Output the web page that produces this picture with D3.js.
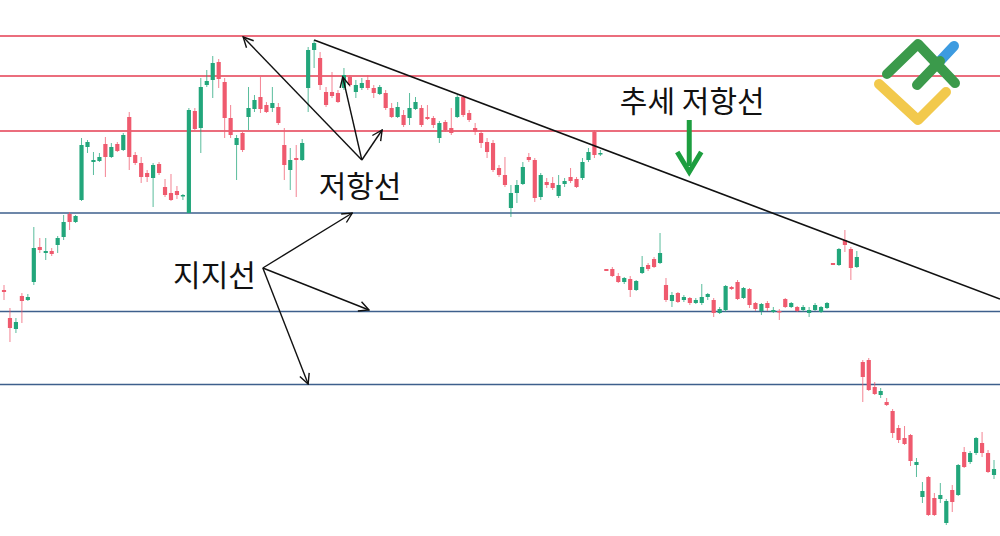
<!DOCTYPE html>
<html><head><meta charset="utf-8">
<script src="https://cdn.jsdelivr.net/npm/d3@7/dist/d3.min.js"></script>
<style>html,body{margin:0;padding:0;background:#fff;overflow:hidden}</style>
</head><body>
<svg id="c" width="1000" height="536"></svg>
<script>
// Candle data (index = session number)
const opens  = [246,218,207,240,236,254,289,283,285,291,299,322,314,336,389,374,375,392,379,392,386,419,381,373,363,358,372,349,343,345,340,323,425,408,451,456,474,454,418,391,403,419,427,439,431,428,429,391,366,378,376,448,486,478,444,444,443,448,459,444,448,456,448,442,443,428,419,421,418,427,428,419,418,398,414,408,419,439,423,408,403,394,393,368,361,328,343,352,379,376,339,354,353,340,352,359,357,358,376,404,382,267,267,260,254,257,246,263,271,277,273,251,235,243,236,238,233,233,239,236,223,226,249,254,238,247,233,225,233,224,225,237,229,229,226,223,226,224,228,273,271,296,287,269,174,176,149,141,134,125,108,98,101,71,39,59,38,37,13,46,41,84,74,83,93,83,61];
const highs  = [251,228,218,243,242,309,298,298,288,300,321,324,321,398,396,384,383,399,393,394,403,424,384,379,366,373,374,357,362,350,342,428,428,458,466,480,477,458,431,401,404,449,441,459,434,449,433,408,388,391,397,489,496,484,449,464,446,468,461,456,458,461,451,451,446,433,434,426,443,439,431,431,420,415,416,428,441,441,426,413,406,398,396,371,379,351,356,374,383,378,363,358,359,361,358,368,359,378,388,406,386,267,269,263,259,260,256,280,273,279,303,258,244,244,241,239,238,252,243,238,229,251,250,256,249,248,234,233,235,229,227,238,234,230,231,229,233,230,234,273,288,306,289,285,176,178,154,148,138,127,111,110,102,78,54,60,43,53,37,51,72,89,85,99,104,86,76];
const lows   = [236,194,203,213,235,251,283,276,280,283,296,306,313,335,383,361,374,359,378,384,385,366,371,353,354,329,361,339,335,337,336,323,406,383,449,438,448,398,398,356,384,406,424,423,423,424,411,356,346,339,375,424,468,446,429,438,433,446,449,438,446,446,438,441,426,418,418,409,411,426,409,416,408,393,404,401,418,419,414,401,388,378,364,359,349,319,333,351,374,334,336,348,346,338,349,353,348,356,374,378,380,265,259,253,252,239,245,262,265,268,272,234,229,233,234,231,232,231,236,219,222,224,246,236,237,228,225,221,225,223,216,228,228,224,224,219,225,223,227,271,270,284,256,268,134,145,141,138,130,98,93,91,70,59,33,20,20,33,11,24,40,68,72,81,79,63,57];
const closes = [244,208,214,235,239,288,286,285,282,298,314,314,320,391,394,376,379,379,389,385,401,379,373,359,359,371,363,341,336,341,341,426,407,449,455,473,457,418,401,398,386,428,436,427,424,433,413,371,376,376,393,486,493,451,431,440,434,461,451,451,453,448,443,449,428,419,429,411,428,434,411,417,411,413,406,403,439,421,416,404,393,384,366,361,351,343,351,369,376,338,361,351,348,351,355,355,349,374,384,381,383,265,260,254,258,246,255,269,267,269,283,236,241,234,239,233,236,239,242,223,227,250,247,237,248,231,227,232,228,226,224,229,233,225,229,226,231,229,233,271,287,291,268,279,159,146,142,145,131,103,96,92,75,74,45,21,21,41,35,34,71,69,83,98,83,64,67];

// Horizontal levels
const resistanceLevels = [500, 460, 405];
const supportLevels    = [323, 224.5, 151.5];
// Trend resistance line: [session, price]
const trendLine = [[52, 496], [167, 237]];

// Annotations: [session, price]
const resistLabel = {text: "저항선", at: [59.7, 339], from: [60.0, 376], to: [[40.1, 499], [56.8, 459], [63.4, 406]]};
const supportLabel = {text: "지지선", at: [35.3, 250], from: [43.4, 268], to: [[58.4, 323], [61.2, 226], [51.0, 152]]};
const trendLabel = {text: "추세 저항선", at: [115.4, 424], arrow: [[114.9, 416], [114.9, 364]]};

const W = 1000, H = 536;
const svg = d3.select("#c");
const x = d3.scaleLinear().domain([0, 166]).range([4, 994]);
const y = d3.scaleLinear().domain([0, 536]).range([536, 0]);
const step = x(1) - x(0);
const bodyW = step * 0.7;

const candles = opens.map((o, i) => ({i, o, h: highs[i], l: lows[i], c: closes[i]}));
const up = "#22a67b", down = "#ef5a6e";

// levels
svg.selectAll("line.res").data(resistanceLevels).join("line")
  .attr("x1", 0).attr("x2", W).attr("y1", d => y(d)).attr("y2", d => y(d))
  .attr("stroke", "#e43c52").attr("stroke-width", 1.6);
svg.selectAll("line.sup").data(supportLevels).join("line")
  .attr("x1", 0).attr("x2", W).attr("y1", d => y(d)).attr("y2", d => y(d))
  .attr("stroke", "#3d5f8c").attr("stroke-width", 1.6);

// candles
const g = svg.append("g");
g.selectAll("line.wick").data(candles).join("line")
  .attr("x1", d => x(d.i)).attr("x2", d => x(d.i))
  .attr("y1", d => y(d.h)).attr("y2", d => y(d.l))
  .attr("stroke", d => d.c >= d.o ? up : down).attr("stroke-opacity", 0.75).attr("stroke-width", 1);
g.selectAll("rect").data(candles).join("rect")
  .attr("x", d => x(d.i) - bodyW / 2).attr("width", bodyW)
  .attr("y", d => y(Math.max(d.o, d.c)))
  .attr("height", d => Math.max(1.5, Math.abs(y(d.o) - y(d.c))))
  .attr("fill", d => d.c >= d.o ? up : down);

// trend line
svg.append("line")
  .attr("x1", x(trendLine[0][0])).attr("y1", y(trendLine[0][1]))
  .attr("x2", x(trendLine[1][0])).attr("y2", y(trendLine[1][1]))
  .attr("stroke", "#111").attr("stroke-width", 1.6);

// arrows
const defs = svg.append("defs");
defs.append("marker").attr("id", "ah").attr("viewBox", "0 0 12 12")
  .attr("refX", 11).attr("refY", 6).attr("markerWidth", 12).attr("markerHeight", 12)
  .attr("markerUnits", "userSpaceOnUse").attr("orient", "auto")
  .append("path").attr("d", "M1,1 L11,6 L1,11").attr("fill", "none")
  .attr("stroke", "#111").attr("stroke-width", 1.4);

function drawArrows(lab) {
  svg.append("g").selectAll("line").data(lab.to).join("line")
    .attr("x1", x(lab.from[0])).attr("y1", y(lab.from[1]))
    .attr("x2", d => x(d[0])).attr("y2", d => y(d[1]))
    .attr("stroke", "#111").attr("stroke-width", 1.4).attr("marker-end", "url(#ah)");
}
drawArrows(resistLabel);
drawArrows(supportLabel);

const font = "'Noto Sans CJK KR', 'Noto Sans', sans-serif";
[resistLabel, supportLabel, trendLabel].forEach(lab => {
  svg.append("text").attr("x", x(lab.at[0])).attr("y", y(lab.at[1]))
    .attr("text-anchor", "middle").attr("font-family", font).attr("font-size", 30)
    .attr("fill", "#111").text(lab.text);
});

// green down arrow
const ga = trendLabel.arrow;
const gx = x(ga[0][0]), gy1 = y(ga[0][1]), gy2 = y(ga[1][1]);
svg.append("line").attr("x1", gx).attr("x2", gx).attr("y1", gy1).attr("y2", gy2 - 6)
  .attr("stroke", "#1d9e3f").attr("stroke-width", 5);
svg.append("path").attr("d", `M${gx-12},${gy2-20} L${gx},${gy2} L${gx+12},${gy2-20}`)
  .attr("fill", "none").attr("stroke", "#1d9e3f").attr("stroke-width", 5).attr("stroke-linejoin", "miter");

// logo
const logo = svg.append("g").attr("fill", "none").attr("stroke-width", 10).attr("stroke-linecap", "round").attr("stroke-linejoin", "round");
logo.append("path").attr("d", "M940,61 L954,46").attr("stroke", "#3d9be0");
logo.append("path").attr("d", "M879,84 L918,120 L946,92").attr("stroke", "#f2c94c");
logo.append("path").attr("d", "M887,74 L918,44 L955,83").attr("stroke", "#3b9a4b");
logo.append("path").attr("d", "M917,85 L940,61").attr("stroke", "#3b9a4b");
</script>
</body></html>
